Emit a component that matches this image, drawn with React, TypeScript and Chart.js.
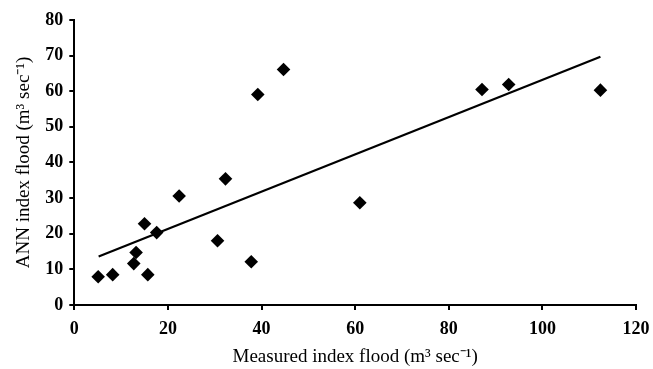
import React, { useEffect, useRef } from "react";
import { Chart, registerables } from "chart.js";

Chart.register(...registerables);

const measuredX = [5.1, 8.2, 12.7, 13.2, 15.7, 15.0, 17.6, 22.4, 30.6, 32.3, 37.8, 39.2, 44.7, 61.0, 87.1, 92.8, 112.4];
const annY = [7.9, 8.5, 11.6, 14.7, 8.5, 22.8, 20.3, 30.6, 18.0, 35.4, 12.1, 59.1, 66.1, 28.7, 60.5, 61.9, 60.3];
const trendX = [5.2, 112.4];
const trendY = [13.6, 69.7];
const xTitle = "Measured index flood (m³ sec⁻¹)";
const yTitle = "ANN index flood (m³ sec⁻¹)";

export default function App() {
  const ref = useRef<HTMLCanvasElement>(null);
  useEffect(() => {
    document.body.style.margin = "0";
    const font = "'Liberation Serif', 'Times New Roman', serif";
    const chart = new Chart(ref.current!, {
      type: "scatter",
      data: {
        datasets: [
          {
            label: "points",
            data: measuredX.map((x, i) => ({ x, y: annY[i] })),
            pointStyle: "rectRot",
            pointRadius: 6.8,
            backgroundColor: "#000",
            borderColor: "#000",
            borderWidth: 0,
          },
          {
            label: "trend",
            type: "line",
            data: trendX.map((x, i) => ({ x, y: trendY[i] })),
            borderColor: "#000",
            borderWidth: 2.2,
            pointRadius: 0,
            showLine: true,
          } as any,
        ],
      },
      options: {
        animation: false,
        responsive: false,
        layout: { padding: { top: 20, right: 17, left: 8, bottom: 0 } },
        plugins: { legend: { display: false }, tooltip: { enabled: false } },
        scales: {
          x: {
            type: "linear",
            min: 0,
            max: 120,
            afterFit: (scale: any) => {
              scale.paddingRight = 0;
            },
            ticks: { stepSize: 20, color: "#000", font: { family: font, size: 18, weight: "bold" }, padding: 8.5 },
            grid: { display: true, drawOnChartArea: false, drawTicks: true, tickLength: 5, color: "#000", lineWidth: 2 },
            border: { display: true, color: "#000", width: 2 },
            title: {
              display: true,
              text: xTitle,
              color: "#000",
              font: { family: font, size: 19, lineHeight: 1 },
              padding: { top: -1, bottom: 2.5 },
            },
          },
          y: {
            type: "linear",
            min: 0,
            max: 80,
            ticks: { stepSize: 10, color: "#000", font: { family: font, size: 18, weight: "bold" }, padding: 6 },
            grid: { display: true, drawOnChartArea: false, drawTicks: true, tickLength: 5, color: "#000", lineWidth: 2 },
            border: { display: true, color: "#000", width: 2 },
            title: { display: true, text: yTitle, color: "#000", font: { family: font, size: 19 }, padding: { top: 4.5, bottom: 4 } },
          },
        },
      },
    });
    return () => chart.destroy();
  }, []);
  return (
    <div style={{ width: 653, height: 369, background: "#fff" }}>
      <canvas ref={ref} width={653} height={369} style={{ display: "block" }} />
    </div>
  );
}
